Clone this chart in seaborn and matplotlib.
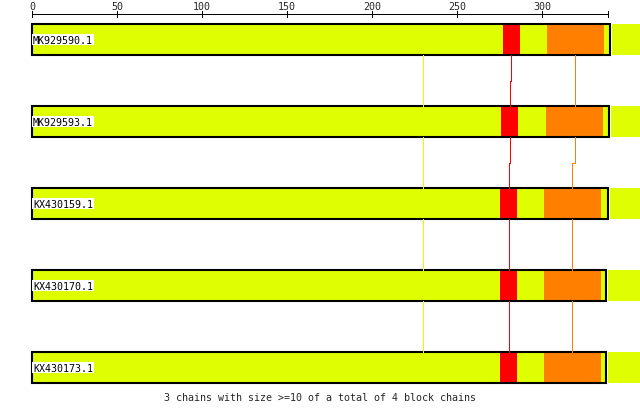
import matplotlib
matplotlib.use("Agg")
import matplotlib.pyplot as plt
import seaborn as sns

# sequences and their block coordinates (positions along the alignment)
names = ["MK929590.1", "MK929593.1", "KX430159.1", "KX430170.1", "KX430173.1"]
seq_len = [340.2, 339.2, 338.8, 337.6, 337.9]
red_start = [277.0, 275.9, 275.3, 275.3, 275.3]
red_end = [287.0, 285.9, 285.3, 285.3, 285.3]
orange_start = [302.9, 302.4, 301.0, 301.0, 301.0]
orange_end = [336.5, 336.0, 334.7, 334.7, 334.7]
yellow_link = [230.0, 230.0, 230.0, 230.0, 230.0]
ruler_ticks = [0, 50, 100, 150, 200, 250, 300]
ruler_end = 339
caption = "3 chains with size >=10 of a total of 4 block chains"

YELLOW = "#DFFF00"
RED = "#FF0000"
ORANGE = "#FF8000"

sns.set_style("white")
plt.rcParams["font.family"] = ["DejaVu Sans Mono"]

fig = plt.figure(figsize=(6.4, 4.1), dpi=100)
ax = fig.add_axes([0, 0, 1, 1])

h = 0.378
xmax = 360
n = len(names)
px = 0.72  # one pixel in points

# layers drawn from longest to shortest so later ones cover the earlier
layers = [
    ([xmax] * n, YELLOW),
    ([v + 1.2 for v in seq_len], "white"),
    (seq_len, YELLOW),
    (orange_end, ORANGE),
    (orange_start, YELLOW),
    (red_end, RED),
    (red_start, YELLOW),
]
for vals, col in layers:
    sns.barplot(x=vals, y=names, color=col, saturation=1, width=h,
                linewidth=0, ax=ax)
# outline box around each sequence
sns.barplot(x=seq_len, y=names, fill=False, color="black", width=h,
            linewidth=1.5, saturation=1, ax=ax)

# connectors between consecutive sequences (stepped halfway, like the original)
red_mid = [(a + b) / 2 for a, b in zip(red_start, red_end)]
orange_mid = [(a + b) / 2 for a, b in zip(orange_start, orange_end)]
for mids, col in [(yellow_link, YELLOW), (red_mid, RED), (orange_mid, ORANGE)]:
    for i in range(n - 1):
        y0, y1 = i + h / 2, i + 1 - h / 2
        ym = (y0 + y1) / 2
        ax.plot([mids[i], mids[i], mids[i + 1], mids[i + 1]], [y0, ym, ym, y1],
                color=col, lw=px, solid_capstyle="butt", antialiased=False)

# sequence names
for i, nm in enumerate(names):
    ax.text(0.6, i, nm, ha="left", va="center", fontsize=7.2, color="black",
            bbox=dict(facecolor="white", edgecolor="none", pad=0.6))

# ruler on top
ry = -0.311
ax.plot([0, ruler_end], [ry, ry], color="black", lw=px, antialiased=False)
for t in ruler_ticks + [ruler_end]:
    ax.plot([t, t], [ry - 0.037, ry + 0.037], color="black", lw=px,
            antialiased=False)
for t in ruler_ticks:
    ax.text(t, -0.405, str(t), ha="center", va="center", fontsize=7.2)

ax.text(169.4, 4.36, caption, ha="center", va="center", fontsize=7.2)

ax.set_xlim(-18.82, 357.65)
ax.set_ylim(4.506, -0.494)
ax.axis("off")

fig.savefig("out.png", dpi=100, facecolor="white")
